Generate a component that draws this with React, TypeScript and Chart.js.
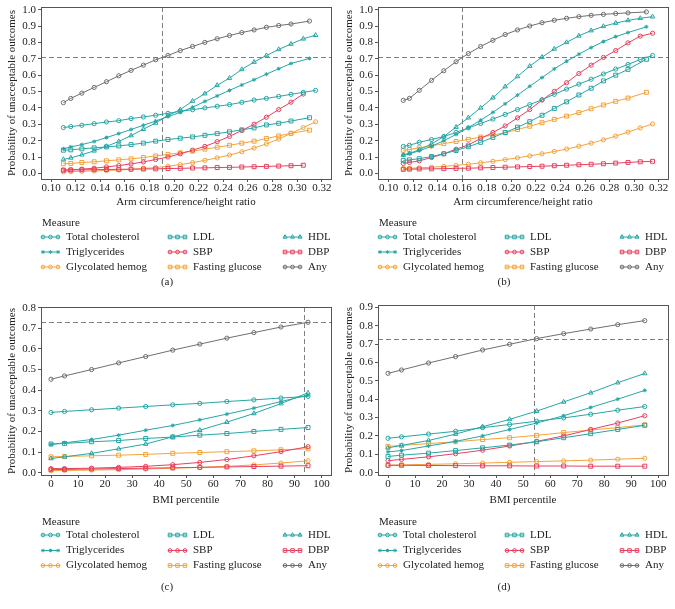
import React, { useEffect, useRef } from "react";
import { Chart, registerables } from "chart.js";
import { drawPoint } from "chart.js/helpers";

Chart.register(...registerables);

// ---------------- data ----------------
const SERIES_NAMES = [
  "Total cholesterol", "LDL", "HDL",
  "Triglycerides", "SBP", "DBP",
  "Glycolated hemog", "Fasting glucose", "Any",
];

// x positions (arm circumference / height ratio)
const GRID_A = [0.11, 0.116, 0.125, 0.135, 0.145, 0.155, 0.165, 0.175, 0.185, 0.195, 0.205, 0.215, 0.225, 0.235, 0.245, 0.255, 0.265, 0.275, 0.285, 0.295, 0.305];
const END_A = [0.315, 0.31, 0.315, 0.31, 0.305, 0.305, 0.315, 0.31, 0.31];
const GRID_B = [0.112, 0.117, 0.125, 0.135, 0.145, 0.155, 0.165, 0.175, 0.185, 0.195, 0.205, 0.215, 0.225, 0.235, 0.245, 0.255, 0.265, 0.275, 0.285, 0.295, 0.305];
const END_B = [0.315, 0.31, 0.315, 0.31, 0.315, 0.315, 0.315, 0.31, 0.31];
// BMI percentile
const GRID_CD = [0, 5, 15, 25, 35, 45, 55, 65, 75, 85, 95];
const END_CD = [95, 95, 95, 95, 95, 95, 95, 95, 95];

// panel (a)
const TC_A = [0.28, 0.286, 0.294, 0.304, 0.314, 0.322, 0.335, 0.345, 0.355, 0.367, 0.379, 0.389, 0.4, 0.41, 0.42, 0.434, 0.448, 0.458, 0.47, 0.483, 0.495, 0.507];
const LDL_A = [0.142, 0.144, 0.15, 0.156, 0.162, 0.168, 0.176, 0.185, 0.197, 0.207, 0.215, 0.223, 0.233, 0.243, 0.254, 0.266, 0.278, 0.296, 0.306, 0.32, 0.34];
const HDL_A = [0.085, 0.095, 0.114, 0.138, 0.165, 0.195, 0.231, 0.27, 0.308, 0.353, 0.39, 0.442, 0.487, 0.538, 0.582, 0.635, 0.68, 0.72, 0.757, 0.79, 0.822, 0.844];
const TRIG_A = [0.15, 0.162, 0.176, 0.195, 0.219, 0.243, 0.268, 0.294, 0.32, 0.347, 0.373, 0.404, 0.44, 0.473, 0.507, 0.54, 0.572, 0.606, 0.639, 0.671, 0.702];
const SBP_A = [0.02, 0.022, 0.026, 0.032, 0.04, 0.048, 0.058, 0.07, 0.085, 0.1, 0.12, 0.142, 0.165, 0.194, 0.226, 0.262, 0.3, 0.343, 0.39, 0.435, 0.485];
const DBP_A = [0.02, 0.021, 0.022, 0.023, 0.024, 0.025, 0.026, 0.027, 0.028, 0.03, 0.031, 0.033, 0.034, 0.036, 0.037, 0.039, 0.041, 0.043, 0.045, 0.047, 0.05];
const GLY_A = [0.01, 0.011, 0.013, 0.015, 0.018, 0.021, 0.025, 0.03, 0.036, 0.044, 0.054, 0.066, 0.08, 0.095, 0.112, 0.132, 0.155, 0.18, 0.21, 0.244, 0.28, 0.315];
const FG_A = [0.059, 0.061, 0.067, 0.071, 0.077, 0.083, 0.089, 0.097, 0.107, 0.116, 0.126, 0.136, 0.148, 0.16, 0.172, 0.185, 0.197, 0.213, 0.229, 0.245, 0.264];
const ANY_A = [0.432, 0.458, 0.49, 0.525, 0.56, 0.596, 0.629, 0.661, 0.694, 0.72, 0.75, 0.775, 0.8, 0.822, 0.842, 0.86, 0.876, 0.892, 0.903, 0.912, 0.93];

// panel (b)
const TC_B = [0.165, 0.172, 0.19, 0.207, 0.225, 0.25, 0.278, 0.305, 0.332, 0.36, 0.39, 0.42, 0.45, 0.483, 0.515, 0.545, 0.575, 0.607, 0.637, 0.665, 0.695, 0.72];
const LDL_B = [0.08, 0.083, 0.09, 0.103, 0.12, 0.14, 0.163, 0.19, 0.22, 0.25, 0.282, 0.316, 0.355, 0.397, 0.437, 0.479, 0.52, 0.565, 0.6, 0.635, 0.697];
const HDL_B = [0.112, 0.122, 0.145, 0.18, 0.225, 0.283, 0.34, 0.4, 0.462, 0.53, 0.592, 0.655, 0.71, 0.76, 0.8, 0.84, 0.872, 0.898, 0.918, 0.934, 0.947, 0.957];
const TRIG_B = [0.115, 0.12, 0.138, 0.165, 0.2, 0.238, 0.28, 0.325, 0.373, 0.425, 0.478, 0.532, 0.585, 0.638, 0.685, 0.728, 0.768, 0.805, 0.835, 0.86, 0.895];
const SBP_B = [0.061, 0.067, 0.077, 0.097, 0.12, 0.148, 0.174, 0.213, 0.25, 0.29, 0.339, 0.39, 0.448, 0.501, 0.554, 0.61, 0.661, 0.708, 0.75, 0.797, 0.838, 0.856];
const DBP_B = [0.025, 0.026, 0.027, 0.028, 0.029, 0.031, 0.032, 0.034, 0.036, 0.038, 0.04, 0.042, 0.044, 0.047, 0.05, 0.053, 0.056, 0.059, 0.063, 0.067, 0.071, 0.074];
const GLY_B = [0.03, 0.031, 0.034, 0.038, 0.043, 0.049, 0.056, 0.065, 0.074, 0.084, 0.095, 0.107, 0.12, 0.134, 0.149, 0.166, 0.185, 0.205, 0.228, 0.252, 0.278, 0.302];
const FG_B = [0.142, 0.145, 0.157, 0.168, 0.182, 0.195, 0.208, 0.222, 0.235, 0.248, 0.268, 0.288, 0.31, 0.33, 0.35, 0.371, 0.395, 0.418, 0.44, 0.46, 0.495];
const ANY_B = [0.446, 0.458, 0.507, 0.568, 0.627, 0.682, 0.732, 0.775, 0.813, 0.848, 0.876, 0.9, 0.92, 0.935, 0.947, 0.957, 0.965, 0.971, 0.976, 0.98, 0.986];

// panel (c)
const TC_C = [0.292, 0.297, 0.305, 0.313, 0.321, 0.329, 0.336, 0.345, 0.353, 0.362, 0.37];
const LDL_C = [0.139, 0.142, 0.15, 0.156, 0.166, 0.173, 0.182, 0.19, 0.2, 0.21, 0.219];
const HDL_C = [0.069, 0.077, 0.094, 0.116, 0.139, 0.174, 0.206, 0.245, 0.287, 0.335, 0.387];
const TRIG_C = [0.137, 0.145, 0.161, 0.182, 0.206, 0.229, 0.256, 0.284, 0.313, 0.345, 0.376];
const SBP_C = [0.02, 0.02, 0.022, 0.026, 0.031, 0.039, 0.05, 0.064, 0.082, 0.102, 0.126];
const DBP_C = [0.015, 0.016, 0.018, 0.02, 0.022, 0.024, 0.026, 0.028, 0.03, 0.032, 0.034];
const GLY_C = [0.01, 0.011, 0.013, 0.015, 0.018, 0.022, 0.026, 0.031, 0.038, 0.047, 0.058];
const FG_C = [0.077, 0.079, 0.082, 0.085, 0.089, 0.094, 0.098, 0.102, 0.106, 0.111, 0.116];
const ANY_C = [0.453, 0.469, 0.5, 0.532, 0.563, 0.594, 0.623, 0.652, 0.679, 0.706, 0.729];

// panel (d)
const TC_D = [0.187, 0.195, 0.21, 0.225, 0.245, 0.262, 0.28, 0.298, 0.318, 0.34, 0.36];
const LDL_D = [0.088, 0.095, 0.106, 0.12, 0.135, 0.15, 0.168, 0.19, 0.212, 0.235, 0.258];
const HDL_D = [0.135, 0.148, 0.175, 0.21, 0.25, 0.29, 0.335, 0.385, 0.435, 0.49, 0.54];
const TRIG_D = [0.113, 0.12, 0.145, 0.17, 0.2, 0.235, 0.27, 0.31, 0.355, 0.4, 0.448];
const SBP_D = [0.065, 0.072, 0.086, 0.103, 0.122, 0.145, 0.17, 0.2, 0.235, 0.27, 0.31];
const DBP_D = [0.04, 0.04, 0.039, 0.038, 0.037, 0.037, 0.036, 0.036, 0.035, 0.035, 0.035];
const GLY_D = [0.04, 0.042, 0.045, 0.048, 0.052, 0.056, 0.06, 0.064, 0.068, 0.073, 0.078];
const FG_D = [0.143, 0.148, 0.158, 0.168, 0.18, 0.19, 0.203, 0.218, 0.232, 0.245, 0.26];
const ANY_D = [0.541, 0.559, 0.597, 0.632, 0.668, 0.699, 0.73, 0.757, 0.782, 0.806, 0.828];

// thresholds (dashed reference lines)
const REF_A = { x: 0.19, y: 0.71 };
const REF_B = { x: 0.16, y: 0.71 };
const REF_C = { x: 93.5, y: 0.728 };
const REF_D = { x: 54, y: 0.73 };

// ticks
const X_TICKS_AB = [0.1, 0.12, 0.14, 0.16, 0.18, 0.2, 0.22, 0.24, 0.26, 0.28, 0.3, 0.32];
const Y_TICKS_AB = [0, 0.1, 0.2, 0.3, 0.4, 0.5, 0.6, 0.7, 0.8, 0.9, 1.0];
const X_TICKS_CD = [0, 10, 20, 30, 40, 50, 60, 70, 80, 90, 100];
const Y_TICKS_C = [0, 0.1, 0.2, 0.3, 0.4, 0.5, 0.6, 0.7, 0.8];
const Y_TICKS_D = [0, 0.1, 0.2, 0.3, 0.4, 0.5, 0.6, 0.7, 0.8, 0.9];

// ---------------- styles ----------------
const TEAL = "#27a6a5";
const RED = "#e8405e";
const ORANGE = "#f5a339";
const GRAY = "#6f6f6f";
const TEXT = "#222222";
const FRAME = "#555555";
const FONT = '"Liberation Serif", "Times New Roman", serif';
const FS = 11;

const COLORS = [TEAL, TEAL, TEAL, TEAL, RED, RED, ORANGE, ORANGE, GRAY];
const SHAPES = ["circle", "rect", "triangle", "star", "circle", "rect", "circle", "rect", "circle"];
const RADII = [2.1, 2.8, 2.6, 2.0, 2.1, 2.8, 2.1, 2.8, 2.1];

type PanelSpec = {
  tag: string;
  grid: number[];
  ends: number[];
  values: number[][];
  xMin: number; xMax: number; yMin: number; yMax: number;
  xTicks: number[]; yTicks: number[]; xDec: number;
  xTitle: string;
  ref: { x: number; y: number };
  box: { left: number; top: number; w: number; h: number };
  plot: { l: number; r: number; t: number; b: number };
  xTitleY: number;
  measureY: number;
  rows: number[];
  tagY: number;
};

const PANELS: PanelSpec[] = [
  {
    tag: "(a)", grid: GRID_A, ends: END_A,
    values: [TC_A, LDL_A, HDL_A, TRIG_A, SBP_A, DBP_A, GLY_A, FG_A, ANY_A],
    xMin: 0.0918, xMax: 0.3275, yMin: -0.034, yMax: 1.016,
    xTicks: X_TICKS_AB, yTicks: Y_TICKS_AB, xDec: 2,
    xTitle: "Arm circumference/height ratio", ref: REF_A,
    box: { left: 0, top: 0, w: 337, h: 300 },
    plot: { l: 41, r: 331, t: 7, b: 179 },
    xTitleY: 202, measureY: 223, rows: [237, 252, 267], tagY: 282,
  },
  {
    tag: "(b)", grid: GRID_B, ends: END_B,
    values: [TC_B, LDL_B, HDL_B, TRIG_B, SBP_B, DBP_B, GLY_B, FG_B, ANY_B],
    xMin: 0.0914, xMax: 0.3276, yMin: -0.034, yMax: 1.016,
    xTicks: X_TICKS_AB, yTicks: Y_TICKS_AB, xDec: 2,
    xTitle: "Arm circumference/height ratio", ref: REF_B,
    box: { left: 337, top: 0, w: 338, h: 300 },
    plot: { l: 41, r: 331, t: 7, b: 179 },
    xTitleY: 202, measureY: 223, rows: [237, 252, 267], tagY: 282,
  },
  {
    tag: "(c)", grid: GRID_CD, ends: END_CD,
    values: [TC_C, LDL_C, HDL_C, TRIG_C, SBP_C, DBP_C, GLY_C, FG_C, ANY_C],
    xMin: -3.7, xMax: 103.5, yMin: -0.011, yMax: 0.803,
    xTicks: X_TICKS_CD, yTicks: Y_TICKS_C, xDec: 0,
    xTitle: "BMI percentile", ref: REF_C,
    box: { left: 0, top: 300, w: 337, h: 309 },
    plot: { l: 41, r: 331, t: 7, b: 175 },
    xTitleY: 200, measureY: 222, rows: [235, 250.5, 265.5], tagY: 287,
  },
  {
    tag: "(d)", grid: GRID_CD, ends: END_CD,
    values: [TC_D, LDL_D, HDL_D, TRIG_D, SBP_D, DBP_D, GLY_D, FG_D, ANY_D],
    xMin: -3.7, xMax: 103.6, yMin: -0.013, yMax: 0.913,
    xTicks: X_TICKS_CD, yTicks: Y_TICKS_D, xDec: 0,
    xTitle: "BMI percentile", ref: REF_D,
    box: { left: 337, top: 300, w: 338, h: 309 },
    plot: { l: 41, r: 331, t: 5, b: 175 },
    xTitleY: 200, measureY: 222, rows: [235, 250.5, 265.5], tagY: 287,
  },
];

const LEG_COL_X = [0, 127, 242];

// ---------------- plugins ----------------
const refLinePlugin = {
  id: "refLines",
  beforeDatasetsDraw(chart: any, _args: any, opts: any) {
    const { ctx, chartArea, scales } = chart;
    const x = Math.round(scales.x.getPixelForValue(opts.x)) + 0.5;
    const y = Math.round(scales.y.getPixelForValue(opts.y)) + 0.5;
    ctx.save();
    ctx.strokeStyle = "#808080";
    ctx.lineWidth = 1;
    ctx.setLineDash([5, 3]);
    ctx.beginPath();
    ctx.moveTo(chartArea.left, y);
    ctx.lineTo(chartArea.right, y);
    ctx.moveTo(x, chartArea.top);
    ctx.lineTo(x, chartArea.bottom);
    ctx.stroke();
    ctx.restore();
  },
};

const framePlugin = {
  id: "frame",
  afterDraw(chart: any) {
    const { ctx, chartArea } = chart;
    ctx.save();
    ctx.strokeStyle = FRAME;
    ctx.lineWidth = 1;
    ctx.strokeRect(
      Math.round(chartArea.left) + 0.5,
      Math.round(chartArea.top) + 0.5,
      Math.round(chartArea.right) - Math.round(chartArea.left),
      Math.round(chartArea.bottom) - Math.round(chartArea.top)
    );
    ctx.restore();
  },
};

const legendPlugin = {
  id: "measureLegend",
  afterDraw(chart: any, _args: any, opts: any) {
    const ctx = chart.ctx;
    ctx.save();
    ctx.font = `${FS}px ${FONT}`;
    ctx.fillStyle = TEXT;
    ctx.textBaseline = "middle";
    ctx.textAlign = "left";
    ctx.fillText("Measure", opts.left + 1, opts.measureY);
    chart.data.datasets.forEach((ds: any, i: number) => {
      const row = Math.floor(i / 3);
      const col = i % 3;
      const x0 = opts.left + LEG_COL_X[col];
      const y = opts.rows[row];
      ctx.strokeStyle = ds.borderColor;
      ctx.lineWidth = 1;
      ctx.setLineDash([]);
      ctx.beginPath();
      ctx.moveTo(x0, y);
      ctx.lineTo(x0 + 19, y);
      ctx.stroke();
      ctx.fillStyle = "rgba(255,255,255,0)";
      [2, 9.5, 17].forEach((dx) =>
        drawPoint(ctx, { pointStyle: ds.pointStyle, radius: ds.pointRadius * 0.9, borderWidth: 1, rotation: 0 } as any, x0 + dx, y)
      );
      ctx.fillStyle = TEXT;
      ctx.fillText(ds.label, x0 + 25, y);
    });
    ctx.textAlign = "center";
    ctx.fillText(opts.tag, opts.tagX, opts.tagY);
    ctx.restore();
  },
};

function buildConfig(p: PanelSpec): any {
  const datasets = SERIES_NAMES.map((name, s) => {
    const vals = p.values[s];
    const data = vals.map((y, i) => ({ x: i < vals.length - 1 ? p.grid[i] : p.ends[s], y }));
    return {
      label: name,
      data,
      borderColor: COLORS[s],
      backgroundColor: "rgba(255,255,255,0)",
      pointBackgroundColor: "rgba(255,255,255,0)",
      pointBorderColor: COLORS[s],
      pointStyle: SHAPES[s],
      pointRadius: RADII[s],
      pointBorderWidth: 1,
      borderWidth: 1,
      tension: 0,
      fill: false,
    };
  });
  const xTitleSize = FS * 1.2;
  const xScaleBottom = p.xTitleY + xTitleSize / 2;
  return {
    type: "line",
    data: { datasets },
    plugins: [refLinePlugin, framePlugin, legendPlugin],
    options: {
      responsive: false,
      animation: false,
      devicePixelRatio: 1,
      layout: {
        padding: { left: 0, top: p.plot.t, right: p.box.w - p.plot.r, bottom: p.box.h - xScaleBottom },
      },
      plugins: {
        legend: { display: false },
        tooltip: { enabled: false },
        refLines: p.ref,
        measureLegend: {
          left: p.plot.l, measureY: p.measureY, rows: p.rows, tag: p.tag,
          tagX: (p.plot.l + p.plot.r) / 2 - 19, tagY: p.tagY,
        },
      },
      scales: {
        x: {
          type: "linear",
          min: p.xMin,
          max: p.xMax,
          afterBuildTicks: (scale: any) => {
            scale.ticks = p.xTicks.map((v) => ({ value: v }));
          },
          afterFit: (scale: any) => {
            scale.height = xScaleBottom - p.plot.b;
            scale.paddingLeft = 0;
            scale.paddingRight = 0;
          },
          ticks: {
            autoSkip: false,
            maxRotation: 0,
            padding: 0,
            color: TEXT,
            font: { family: FONT, size: FS },
            callback: (v: any) => Number(v).toFixed(p.xDec),
          },
          grid: { display: true, drawOnChartArea: false, drawTicks: true, tickLength: 3, color: FRAME },
          border: { display: true, color: FRAME, width: 1 },
          title: {
            display: true,
            text: p.xTitle,
            color: TEXT,
            font: { family: FONT, size: FS },
            padding: { top: 0, bottom: 0 },
          },
        },
        y: {
          type: "linear",
          min: p.yMin,
          max: p.yMax,
          afterBuildTicks: (scale: any) => {
            scale.ticks = p.yTicks.map((v) => ({ value: v }));
          },
          afterFit: (scale: any) => {
            scale.width = p.plot.l;
            scale.paddingTop = 0;
            scale.paddingBottom = 0;
          },
          ticks: {
            autoSkip: false,
            padding: 2,
            color: TEXT,
            font: { family: FONT, size: FS },
            callback: (v: any) => Number(v).toFixed(1),
          },
          grid: { display: true, drawOnChartArea: false, drawTicks: true, tickLength: 3, color: FRAME },
          border: { display: true, color: FRAME, width: 1 },
          title: {
            display: true,
            text: "Probability of unacceptable outcomes",
            color: TEXT,
            font: { family: FONT, size: FS },
            padding: { top: 6, bottom: 0 },
          },
        },
      },
    },
  };
}

function PanelChart({ spec }: { spec: PanelSpec }) {
  const ref = useRef<HTMLCanvasElement | null>(null);
  useEffect(() => {
    if (!ref.current) return;
    const chart = new Chart(ref.current, buildConfig(spec));
    return () => chart.destroy();
  }, [spec]);
  return (
    <canvas
      ref={ref}
      width={spec.box.w}
      height={spec.box.h}
      style={{
        position: "absolute",
        left: spec.box.left,
        top: spec.box.top,
        width: spec.box.w,
        height: spec.box.h,
      }}
    />
  );
}

export default function App() {
  return (
    <div
      style={{
        position: "absolute",
        left: 0,
        top: 0,
        width: 675,
        height: 609,
        background: "#ffffff",
        overflow: "hidden",
      }}
    >
      {PANELS.map((p) => (
        <PanelChart key={p.tag} spec={p} />
      ))}
    </div>
  );
}
